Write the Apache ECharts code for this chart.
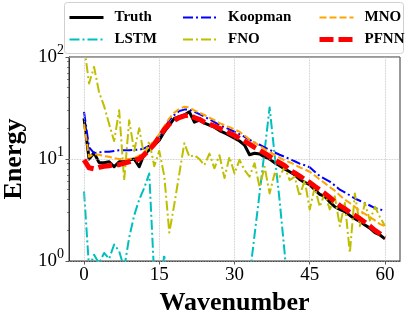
<!DOCTYPE html>
<html>
<head>
<meta charset="utf-8">
<script src="https://cdn.jsdelivr.net/npm/echarts@6/dist/echarts.min.js"></script>
<style>
html,body{margin:0;padding:0;background:#fff;}
#c{width:410px;height:320px;}
</style>
</head>
<body>
<div id="c"></div>
<script>
const wavenumber = [0,1,2,3,4,5,6,7,8,9,10,11,12,13,14,15,16,17,18,19,20,21,22,23,24,25,26,27,28,29,30,31,32,33,34,35,36,37,38,39,40,41,42,43,44,45,46,47,48,49,50,51,52,53,54,55,56,57,58,59,60];
const truth = [25,10,11.5,9.2,9.2,9.4,8.4,9.4,9.4,9.8,10,8.4,11.2,12.3,13.7,15.3,18.5,21.5,25,26,27,29,23,24,22.5,21.5,20.5,19,18,17,16,15,13.7,11,11.4,11.2,10.5,10,9.2,8.6,8.0,7.5,7.0,6.3,5.9,5.6,5.0,4.5,4.3,3.8,3.4,3.2,3.05,2.8,2.6,2.45,2.25,2.1,1.9,1.8,1.65];
const lstm = [4.8,0.85,1.15,0.95,1.2,1.05,1.45,1.25,0.85,1.7,2.8,4.0,5.2,7.2,0.7,0.45,1.15,0.4,0.3,0.25,0.3,0.2,0.25,0.3,0.2,0.25,0.3,0.2,0.25,0.3,0.2,0.25,0.3,0.7,1.8,4.6,12,32,11,3.9,1.2,0.3,0.2,0.25,0.3,0.2,0.25,0.3,0.2,0.25,0.3,0.2,0.25,0.3,0.2,0.25,0.3,0.2,0.25,0.3,0.2];
const koopman = [29,13,11.4,11.6,11.8,11.8,12,12.2,12.2,12.2,12.3,12.3,12.7,13.5,14.8,17,20,24,27,29.5,30.5,30.5,29,27.5,26,24.5,23,21.5,20.5,19.5,18.5,17.5,16.5,15.5,14.5,13.8,13,12.3,11.6,11,10.5,10,9.5,9.0,8.7,8.3,7.5,6.8,6.4,6.0,5.5,5.0,4.7,4.4,4.1,3.9,3.7,3.5,3.3,3.2,3.1];
const fno = [130,55,80,45,33,22,15,30,6.2,24,12,20,10.5,15,8.5,12,6.8,1.9,3.6,7.2,14.3,10.5,10.9,10,8.7,11.3,8.1,10.9,6.5,10.5,7.2,9.8,7.8,6.7,9.1,5.3,8.4,4.6,7.2,6.7,8.4,6.2,6.7,4.3,6.2,3.2,5.3,3.4,4.6,3.2,4.3,2.2,3.7,1.2,4.6,2.2,3.7,2.5,3.4,2.7,2.2];
const mno = [22,10.5,11.2,11,10.7,10.5,10.2,10,10,10,10.2,10.8,11.8,13.2,15,17.5,21,25,28.5,31,32.5,32,30,28.5,27,25.5,24,22.5,21.5,20.5,19.5,18.5,17,15.5,14.5,13.5,12.5,11.8,11,10.3,9.7,9.3,8.8,8.3,7.9,7.5,6.9,6.3,5.8,5.3,4.9,4.4,4.0,3.7,3.4,3.1,2.9,2.7,2.5,2.3,2.2];
const pfnn = [9.8,8.2,8.0,8.3,8.5,8.6,8.8,8.8,9.1,9.4,9.7,10,11,12.3,14,16.5,19.5,22,24,25.5,26.5,27,25.5,24.5,23,22,21,20,19,18,17,16,15,14,13,12.2,11.4,10.6,9.8,9.2,8.6,7.8,7.3,6.8,6.3,5.9,5.4,5.0,4.6,4.2,3.8,3.5,3.25,3.0,2.8,2.6,2.4,2.2,2.0,1.85,1.7];
const xTicks = [0,15,30,45,60];
const yTicks = [1,10,100];
const yMinorTicks = [2,3,4,5,6,7,8,9,20,30,40,50,60,70,80,90];
const seriesNames = ['Truth','LSTM','Koopman','FNO','MNO','PFNN'];

const FONT = '"Liberation Serif", "Times New Roman", serif';
const zip = arr => wavenumber.map((x, i) => [x, arr[i]]);

const styles = {
  Truth:   {color:'#000000', width:3, type:'solid'},
  LSTM:    {color:'#00bfbf', width:2, type:[10,3,2,3]},
  Koopman: {color:'#0000ff', width:2, type:[10,3,2,3]},
  FNO:     {color:'#bfbf00', width:2, type:[10,3,2,3]},
  MNO:     {color:'#ffa500', width:2, type:[7,3]},
  PFNN:    {color:'#ff0000', width:5, type:[14,5]}
};
const dataMap = {Truth:truth, LSTM:lstm, Koopman:koopman, FNO:fno, MNO:mno, PFNN:pfnn};

const series = [{
  name: '_grid', type: 'line', data: [], z: 1, silent: true,
  markLine: {
    silent: true, symbol: ['none','none'], label: {show:false}, animation:false,
    lineStyle: {color:'#bbbbbb', type:'dotted', width:0.8},
    data: xTicks.map(v => ({xAxis: v})).concat(yTicks.map(v => ({yAxis: v})))
  }
}];
seriesNames.forEach((n, i) => {
  const s = styles[n];
  series.push({
    name: n, type: 'line', data: zip(dataMap[n]), showSymbol: false, symbol: 'none',
    z: 2 + i, clip: true,
    itemStyle: {color: s.color},
    lineStyle: {color: s.color, width: s.width, type: s.type, join: 'round', cap: 'butt'}
  });
});

const legendCommon = {
  orient: 'vertical', top: 10, padding: 0, itemGap: 7, itemWidth: 34, itemHeight: 14,
  textStyle: {fontFamily: FONT, fontWeight: 'bold', fontSize: 15, color: '#000', padding: [0,0,0,6]},
  z: 5
};
const mkLegend = (left, names) => Object.assign({}, legendCommon, {
  left: left,
  data: names.map(n => ({
    name: n,
    itemStyle: {opacity: 0},
    lineStyle: {width: styles[n].width, color: styles[n].color, type: styles[n].type, opacity: 1}
  }))
});

const option = {
  animation: false,
  backgroundColor: '#ffffff',
  grid: {left: 69, right: 10, top: 57, bottom: 59, show: true, borderColor: '#333', borderWidth: 1,
         backgroundColor: 'transparent', containLabel: false, outerBoundsMode: 'none'},
  legend: [
    mkLegend(68, ['Truth','LSTM']),
    mkLegend(182, ['Koopman','FNO']),
    mkLegend(317, ['MNO','PFNN'])
  ],
  graphic: [{
    type: 'rect', left: 64, top: 2, z: 0,
    shape: {width: 339, height: 51, r: 3},
    style: {fill: 'rgba(255,255,255,0.8)', stroke: '#d0d0d0', lineWidth: 1}
  }],
  xAxis: {
    type: 'value', min: -3, max: 63, position: 'bottom',
    name: 'Wavenumber', nameLocation: 'middle', nameGap: 25,
    nameTextStyle: {fontFamily: FONT, fontWeight: 'bold', fontSize: 26, color: '#000'},
    axisLine: {show: true, onZero: false, lineStyle: {color: '#333', width: 1}},
    axisTick: {show: true, length: 3.5, customValues: xTicks, lineStyle: {color: '#333', width: 0.8}},
    axisLabel: {customValues: xTicks, margin: 5, fontFamily: FONT, fontSize: 19, color: '#000'},
    splitLine: {show: false}
  },
  yAxis: [{
    type: 'log', logBase: 10, min: 1, max: 100, position: 'left',
    name: 'Energy', nameLocation: 'middle', nameGap: 38, nameRotate: 90,
    nameTextStyle: {fontFamily: FONT, fontWeight: 'bold', fontSize: 26, color: '#000'},
    axisLine: {show: true, onZero: false, lineStyle: {color: '#333', width: 1}},
    axisTick: {show: true, length: 3.5, customValues: yTicks, lineStyle: {color: '#333', width: 0.8}},
    axisLabel: {
      customValues: yTicks, margin: 5,
      formatter: v => '{b|10}{s|' + Math.round(Math.log10(v)) + '}',
      rich: {
        b: {fontFamily: FONT, fontSize: 19, color: '#000', padding: [5,0,5,0], verticalAlign: 'top'},
        s: {fontFamily: FONT, fontSize: 14, color: '#000', padding: [1,0,0,0], verticalAlign: 'top'}
      }
    },
    splitLine: {show: false}
  }, {
    type: 'log', logBase: 10, min: 1, max: 100, position: 'left',
    axisLine: {show: false, onZero: false},
    axisTick: {show: true, length: 2, customValues: yMinorTicks, lineStyle: {color: '#333', width: 0.6}},
    axisLabel: {show: false},
    splitLine: {show: false}
  }],
  series: series
};

const chart = echarts.init(document.getElementById('c'), null, {renderer: 'canvas'});
chart.setOption(option);
</script>
</body>
</html>
